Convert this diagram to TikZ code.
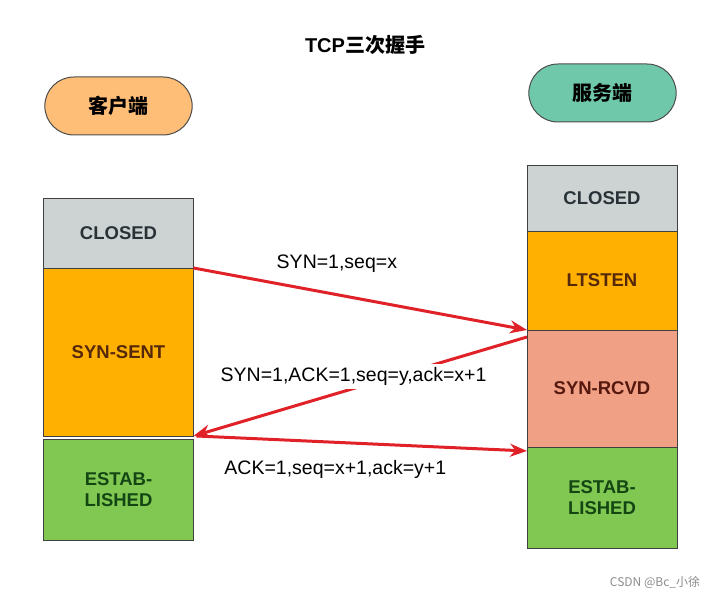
\documentclass[tikz,border=0pt]{standalone}
\usepackage{fontspec}
\setmainfont{Liberation Sans}
\newfontfamily\cjk{Noto Sans CJK SC}
\usetikzlibrary{positioning, arrows.meta, shapes.misc}
\definecolor{closedgray}{RGB}{205,211,211}
\definecolor{stateorange}{RGB}{255,176,0}
\definecolor{statesalmon}{RGB}{240,160,132}
\definecolor{stategreen}{RGB}{128,200,82}
\definecolor{clientfill}{RGB}{255,190,120}
\definecolor{serverfill}{RGB}{112,200,170}
\definecolor{arrowred}{RGB}{224,34,40}
\definecolor{closedtext}{RGB}{40,50,55}
\definecolor{senttext}{RGB}{85,40,10}
\definecolor{rcvdtext}{RGB}{85,25,15}
\definecolor{esttext}{RGB}{20,70,20}

\begin{document}
\begin{tikzpicture}[
    x=1pt, y=-1pt,
    state/.style={
        rectangle,
        draw=black!75,
        line width=0.9pt,
        outer sep=0pt,
        inner sep=0pt,
        align=center,
        minimum width=150pt,
        font=\fontsize{18.5}{21}\selectfont\bfseries
    },
    role/.style={
        rounded rectangle,
        draw=black!70,
        line width=1pt,
        minimum width=154pt,
        minimum height=58pt,
        font=\cjk\fontsize{20}{22}\selectfont\bfseries
    },
    msg/.style={-{Stealth[length=17pt,width=13pt]}, line width=3pt, draw=arrowred},
    msglabel/.style={font=\fontsize{19.5}{22}\selectfont, inner sep=3pt}
]

\useasboundingbox (0,0) rectangle (724,596);

\node[font=\fontsize{20}{22}\selectfont\bfseries] (title) at (365,45) {TCP\cjk 三次握手};

\node[role, fill=clientfill] (client) at (118.5,106) {客户端};
\node[role, fill=serverfill] (server) at (602.5,93) {服务端};

% client side
\node[state, fill=closedgray, text=closedtext, minimum height=70pt, anchor=north] (cclosed) at (118.5,198) {CLOSED};
\node[state, fill=stateorange, text=senttext, minimum height=168pt, below=0pt of cclosed] (csent) {SYN-SENT};
\node[state, fill=stategreen, text=esttext, minimum height=101pt, below=3.5pt of csent] (cest) {ESTAB-\\LISHED};

% server side
\node[state, fill=closedgray, text=closedtext, minimum height=66pt, anchor=north] (sclosed) at (602,165) {CLOSED};
\node[state, fill=stateorange, text=senttext, minimum height=99pt, below=0pt of sclosed] (slisten) {LTSTEN};
\node[state, fill=statesalmon, text=rcvdtext, minimum height=117pt, below=0pt of slisten] (srcvd) {SYN-RCVD};
\node[state, fill=stategreen, text=esttext, minimum height=101pt, below=0pt of srcvd] (sest) {ESTAB-\\LISHED};

\draw[msg] (cclosed.south east) -- node[msglabel, pos=.43, yshift=31pt] (syn) {SYN=1,seq=x} (srcvd.north west);
\draw[msg] ([yshift=-7pt]srcvd.north west) -- node[msglabel, fill=white, pos=.52, yshift=12pt] (synack) {SYN=1,ACK=1,seq=y,ack=x+1} (csent.south east);
\draw[msg] ([xshift=3pt]csent.south east) -- node[msglabel, pos=.42, yshift=-27.5pt] (ack) {ACK=1,seq=x+1,ack=y+1} ([yshift=-4pt]sest.north west);

\node[text=black!45, font=\cjk\fontsize{12}{14}\selectfont] (mark) at (655,582) {CSDN @Bc\_小徐};

\end{tikzpicture}
\end{document}
